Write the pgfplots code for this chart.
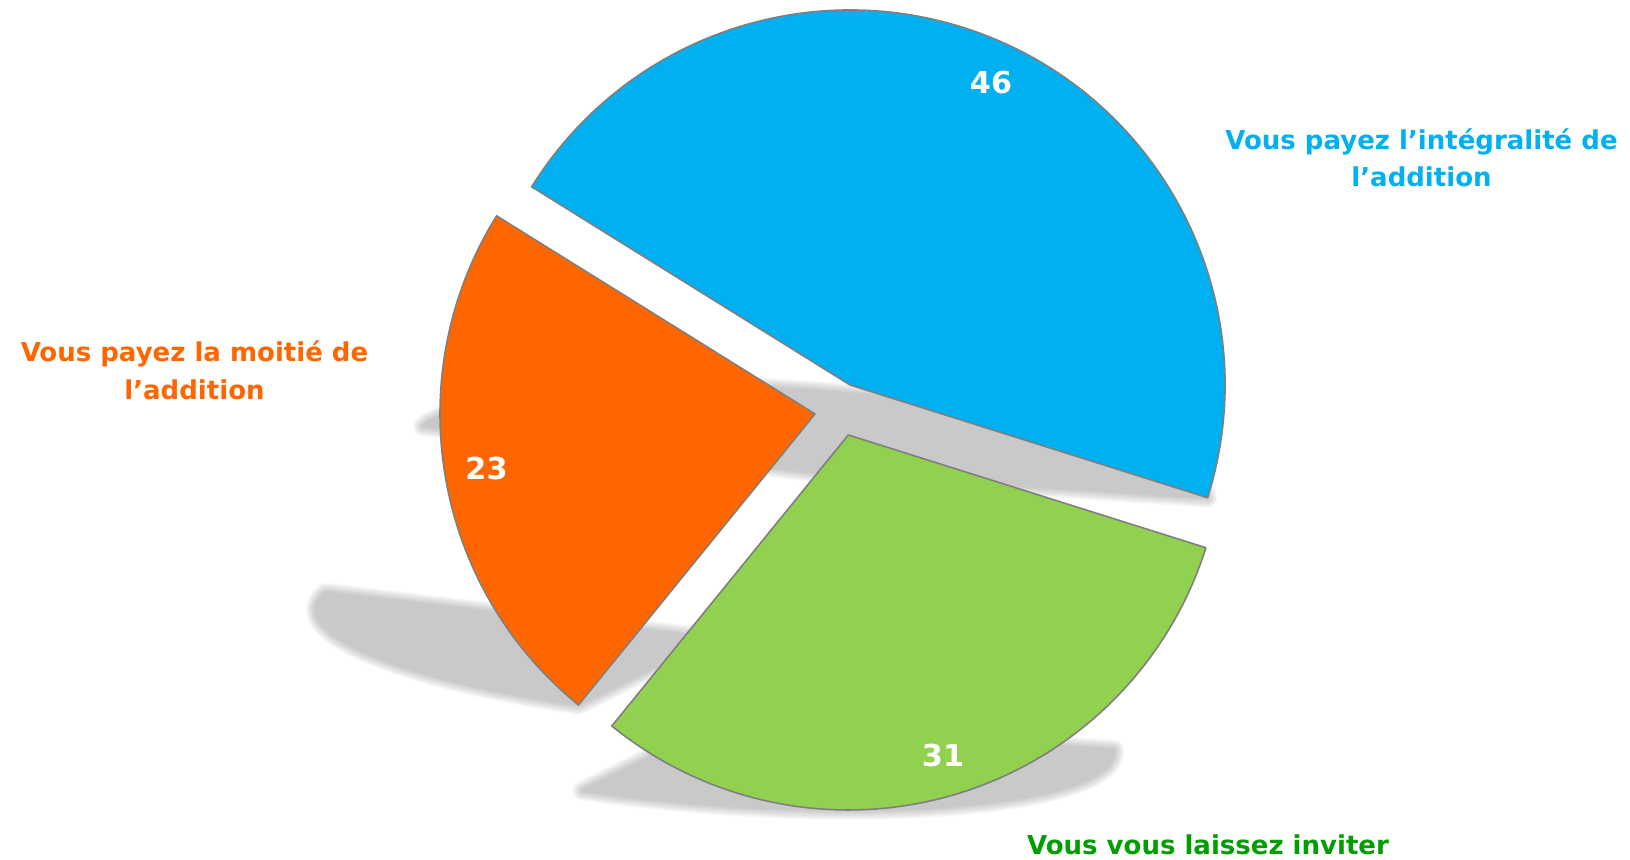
\documentclass[border=0pt]{standalone}
\usepackage{pgfplots}
\pgfplotsset{compat=1.18}
\usepackage{pgfplotstable}
\usepackage{fontspec}
\setmainfont{DejaVu Sans}
\definecolor{cblue}{HTML}{00B0F0}
\definecolor{corange}{HTML}{FF6600}
\definecolor{cgreen}{HTML}{92D050}
\definecolor{tgreen}{HTML}{009E00}
\definecolor{edge}{HTML}{7F7F7F}

% share of each answer (percent)
\pgfplotstableread{
idx value
0 46
1 23
2 31
}\piedata
\pgfplotstablegetelem{0}{value}\of\piedata \let\vA\pgfplotsretval
\pgfplotstablegetelem{1}{value}\of\piedata \let\vB\pgfplotsretval
\pgfplotstablegetelem{2}{value}\of\piedata \let\vC\pgfplotsretval
\pgfmathsetmacro\aS{-17.5}
\pgfmathsetmacro\aA{\aS+3.6*\vA}
\pgfmathsetmacro\aB{\aA+3.6*\vB}
\pgfmathsetmacro\aC{\aB+3.6*\vC}

\newcommand\slice[5]{%
  \fill[#1, draw=edge, line width=0.45pt, line join=round]
    (axis cs:#2,#3) -- ++(#4:3.75cm) arc[start angle=#4, end angle=#5, radius=3.75cm] -- cycle;}
\newcommand\shlayer[5]{%
  \begin{scope}[transparency group, opacity=0.022]
  \fill[black, draw=black, line width=#5, line join=round,
        shift={(axis cs:#1,#2)}, cm={1,0,-0.35,0.23,(0pt,0pt)}]
    (0pt,0pt) -- (#3:3.75cm) arc[start angle=#3, end angle=#4, radius=3.75cm] -- cycle;
  \end{scope}}
\newcommand\shadowslice[4]{%
  \shlayer{#1}{#2}{#3}{#4}{5.7pt}%
  \shlayer{#1}{#2}{#3}{#4}{5.1pt}%
  \shlayer{#1}{#2}{#3}{#4}{4.6pt}%
  \shlayer{#1}{#2}{#3}{#4}{4.0pt}%
  \shlayer{#1}{#2}{#3}{#4}{3.4pt}%
  \shlayer{#1}{#2}{#3}{#4}{2.8pt}%
  \shlayer{#1}{#2}{#3}{#4}{2.3pt}%
  \shlayer{#1}{#2}{#3}{#4}{1.7pt}%
  \shlayer{#1}{#2}{#3}{#4}{1.1pt}%
  \shlayer{#1}{#2}{#3}{#4}{0.5pt}}

\begin{document}
\begin{tikzpicture}
\begin{axis}[name=ax, width=16.3cm, height=8.6cm, scale only axis,
  xmin=0, xmax=1630, ymin=0, ymax=860, hide axis, clip=false]
% shadows
\shadowslice{810.5}{388.1}{\aS}{\aA}
\shadowslice{713.1}{221.9}{\aA}{\aB}
\shadowslice{717.0}{136.3}{\aB}{\aC}
% slices
\slice{cblue}{850}{475}{\aS}{\aA}
\slice{corange}{815}{446}{\aA}{\aB}
\slice{cgreen}{848.3}{425}{\aB}{\aC}
% value labels
\node[anchor=base, text=white, font=\fontsize{8.6}{10}\selectfont\bfseries] at (axis cs:991,766) {46};
\node[anchor=base, text=white, font=\fontsize{8.6}{10}\selectfont\bfseries] at (axis cs:486.5,380.5) {23};
\node[anchor=base, text=white, font=\fontsize{8.6}{10}\selectfont\bfseries] at (axis cs:943,93) {31};
% category labels
\node[anchor=base, text=cblue, font=\fontsize{7.4}{9}\selectfont\bfseries] at (axis cs:1421.5,710.5) {Vous payez l’intégralité de};
\node[anchor=base, text=cblue, font=\fontsize{7.4}{9}\selectfont\bfseries] at (axis cs:1421.5,673) {l’addition};
\node[anchor=base, text=corange, font=\fontsize{7.4}{9}\selectfont\bfseries] at (axis cs:194.5,498.3) {Vous payez la moitié de};
\node[anchor=base, text=corange, font=\fontsize{7.4}{9}\selectfont\bfseries] at (axis cs:194.5,460.7) {l’addition};
\node[anchor=base, text=tgreen, font=\fontsize{7.4}{9}\selectfont\bfseries] at (axis cs:1208,5.7) {Vous vous laissez inviter};
\end{axis}
\pgfresetboundingbox
\path (ax.south west) rectangle (ax.north east);
\end{tikzpicture}
\end{document}
